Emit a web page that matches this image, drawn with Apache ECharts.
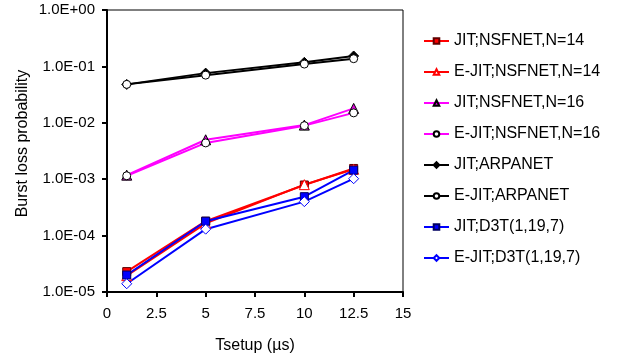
<!DOCTYPE html>
<html>
<head>
<meta charset="utf-8">
<script src="https://cdn.jsdelivr.net/npm/echarts@6/dist/echarts.min.js"></script>
<style>
  html, body { margin: 0; padding: 0; background: #fff; }
  #chart { width: 617px; height: 360px; }
</style>
</head>
<body>
<div id="chart"></div>
<script>
// Tsetup values (us) and burst loss probability per scheme / topology
const tsetup = [1, 5, 10, 12.5];
const jitNsf14 = [2.3e-5, 1.8e-4, 7.9e-4, 1.55e-3];
const ejitNsf14 = [1.95e-5, 1.65e-4, 8.0e-4, 1.5e-3];
const jitNsf16 = [1.18e-3, 5.0e-3, 9.1e-3, 1.8e-2];
const ejitNsf16 = [1.15e-3, 4.4e-3, 8.9e-3, 1.5e-2];
const jitArpa = [4.8e-2, 7.6e-2, 0.118, 0.153];
const ejitArpa = [4.8e-2, 7.0e-2, 0.11, 0.137];
const jitD3t = [2.0e-5, 1.8e-4, 4.9e-4, 1.45e-3];
const ejitD3t = [1.4e-5, 1.3e-4, 4.0e-4, 1.02e-3];

const FONT = "'Liberation Sans', Arial, sans-serif";

function sciLabel(v) {
  const e = Math.round(Math.log10(v));
  return "1.0E" + (e < 0 ? "-" : "+") + String(Math.abs(e)).padStart(2, "0");
}

function line(name, values, color, symbol, fill, border) {
  return {
    name,
    type: "line",
    data: tsetup.map((x, i) => [x, values[i]]),
    symbol,
    symbolSize: symbol === "triangle" || symbol === "diamond" ? 10 : 8,
    lineStyle: { color, width: 2 },
    itemStyle: { color: fill, borderColor: border, borderWidth: 1 },
    emphasis: { disabled: true },
    animation: false
  };
}

const series = [
  line("JIT;NSFNET,N=14", jitNsf14, "#ff0000", "rect", "#ff0000", "#600000"),
  line("E-JIT;NSFNET,N=14", ejitNsf14, "#ff0000", "triangle", "#ffffff", "#ff0000"),
  line("JIT;NSFNET,N=16", jitNsf16, "#ff00ff", "triangle", "#e000e0", "#000000"),
  line("E-JIT;NSFNET,N=16", ejitNsf16, "#ff00ff", "circle", "#ffffff", "#000000"),
  line("JIT;ARPANET", jitArpa, "#000000", "diamond", "#000000", "#000000"),
  line("E-JIT;ARPANET", ejitArpa, "#000000", "circle", "#ffffff", "#000000"),
  line("JIT;D3T(1,19,7)", jitD3t, "#0000ff", "rect", "#0000ff", "#000060"),
  line("E-JIT;D3T(1,19,7)", ejitD3t, "#0000ff", "diamond", "#ffffff", "#0000ff")
];

const chart = echarts.init(document.getElementById("chart"), null, { renderer: "canvas" });
chart.setOption({
  animation: false,
  textStyle: { fontFamily: FONT },
  grid: {
    left: 107, top: 10, right: 214, bottom: 68,
    show: true, borderColor: "#000", borderWidth: 1, backgroundColor: "transparent"
  },
  legend: {
    orient: "vertical",
    left: 418,
    top: 28,
    itemWidth: 25,
    itemHeight: 7,
    itemGap: 15,
    textStyle: { fontFamily: FONT, fontSize: 16, color: "#000", lineHeight: 16 },
    data: series.map((s) => s.name)
  },
  xAxis: {
    type: "value",
    min: 0,
    max: 15,
    interval: 2.5,
    name: "Tsetup (\u00b5s)",
    nameLocation: "middle",
    nameGap: 46,
    nameTextStyle: { fontFamily: FONT, fontSize: 16, color: "#000" },
    axisLine: { show: true, onZero: false, lineStyle: { color: "#000", width: 2 } },
    axisTick: { show: true, inside: false, length: 5, lineStyle: { color: "#000", width: 2 } },
    axisLabel: { fontFamily: FONT, fontSize: 15, color: "#000", margin: 14 },
    splitLine: { show: false }
  },
  yAxis: {
    type: "log",
    logBase: 10,
    min: 1e-5,
    max: 1,
    splitNumber: 5,
    name: "Burst loss probability",
    nameLocation: "middle",
    nameGap: 76,
    nameTextStyle: { fontFamily: FONT, fontSize: 16, color: "#000", padding: [0, 0, 0, 15] },
    axisLine: { show: true, lineStyle: { color: "#000", width: 2 } },
    axisTick: { show: true, inside: false, length: 5, lineStyle: { color: "#000", width: 2 } },
    axisLabel: { fontFamily: FONT, fontSize: 15, color: "#000", margin: 12, formatter: sciLabel },
    splitLine: { show: false },
    minorTick: { show: false }
  },
  series
});
</script>
</body>
</html>
